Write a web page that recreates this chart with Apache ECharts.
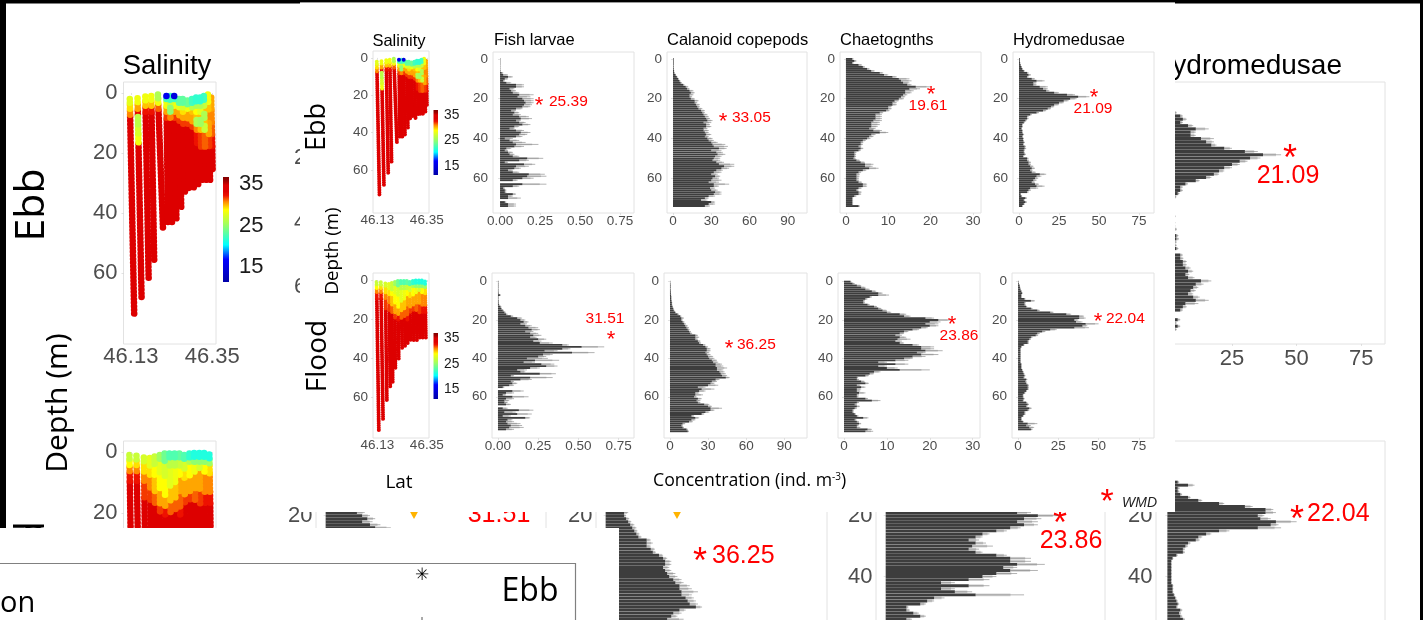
<!DOCTYPE html>
<html><head><meta charset="utf-8">
<style>html,body{margin:0;padding:0;background:#fff}#c{width:1423px;height:620px}</style>
<script src="https://cdn.jsdelivr.net/npm/echarts@6/dist/echarts.min.js"></script>
</head><body><div id="c"></div>
<script>
// ---- Mean concentration by 1 m depth bin (index = depth in m) ----
const ebbFish = [.002,.002,.002,.002,.002,.002,.003,.01,.02,.05,.03,.02,.04,.1,.1,.06,.07,.08,.12,.11,.14,.15,.16,.15,.14,.1,.07,.09,.08,.12,.13,.1,.12,.14,.09,.06,.1,.13,.12,.1,.03,.06,.08,.1,.09,.04,.03,.05,.06,.08,.17,.12,.03,.15,.1,.09,.05,.08,.18,.17,.14,.08,0,.14,.08,.02,.03,.03,.08,.05,.05,0,.03,.05,.05];
const ebbFishErr = [0,0,0,0,0,0,0,.01,.03,.03,.02,.01,.03,.05,.05,.03,.03,.04,.09,.08,.07,.06,.05,.05,.05,.04,.03,.03,.05,.06,.07,.03,.04,.05,.03,.03,.05,.06,.05,.04,.05,.06,.08,.14,.06,.03,.02,.03,.03,.04,.1,.06,.02,.07,.08,.04,.03,.04,.1,.12,.07,.03,0,.15,.04,.01,.01,.01,.02,.03,.08,0,.01,.05,.05];
const ebbCal = [.5,.5,.5,.5,.5,.6,.8,1,2,3,4,5,6,8,10,11,13,14,13,13,14,17,17,18,19,20,22,23,24,25,26,27,24,26,26,24,24,25,26,25,27,28,30,31,32,36,30,34,35,33,32,31,34,36,40,38,34,32,30,33,31,30,28,32,32,29,30,33,32,28,25,22,30,28,25];
const ebbCalErr = [.1,.1,.1,.1,.1,.1,.2,.3,.4,.5,.6,.8,1,1,2,2,3,3,3,2,3,3,2,3,2,3,3,2,3,3,3,4,6,3,4,3,4,3,4,3,4,4,5,10,11,6,8,5,6,5,5,6,6,12,8,6,5,6,5,4,5,8,8,12,4,4,5,5,6,5,3,5,3,5,4];
const ebbChaet = [1.5,2,1.5,3,4,5,6,8,9,11,12.5,13,13.5,14.5,16.5,15,14,14,13.5,13,12.5,11.5,11,11,10,10,9.5,8,7,7,7,6.5,6,6,6,5.5,6.5,8,6,5.5,5,4,3.5,3.5,3,3.5,3,2,2,2,1.8,2.5,3.5,4.5,4.5,5.5,4,3,2.5,2.5,2.5,2.5,3,4,4,3,2.5,3,3,2,1.5,1.5,1.5,1.5,3];
const ebbChaetErr = [.3,.5,.3,.8,.5,.6,.8,.8,1,1,2.5,2.5,1.5,1,3.5,2.5,2,1.5,1,1,1.2,1,1,1,.8,.8,.8,.8,1.5,1.5,1.5,2,2,2,1.5,1.5,2,2,1,1,.8,.7,.6,.5,.6,.6,.5,.5,.4,.4,.5,.8,1,2,1.8,2.2,.8,.6,.8,.7,.6,.6,.8,1,1,.7,.5,.7,.6,.5,.2,.2,.2,.2,.3];
const ebbHydro = [.5,.5,.7,1,1.5,2,3,5,6,5,8,11,9,9,13,15,17,22,30,37,32,28,25,22,20,18,15,11,7,5,5,4,3,2,2,1.5,2,2,2.5,2,2.5,2.5,3,2.5,3.5,3.5,3,3,3.5,2.5,5,5,6,6,7,8,7,8,13,11,10,9,8,10,11,7,6,5,1,1.5,4,3,4,3,2];
const ebbHydroErr = [0,.1,.1,.2,.3,.4,.6,1,1.5,1,2,5,2,2,5,3,2,3,5,7,4,3,3,3,2,2,2,1.5,1,1,1,.7,.5,.3,.4,.3,.4,.4,.7,.4,.6,.6,.7,.5,.8,1,.6,.6,.8,.5,1,1.2,1.5,1.5,2,2,1.5,2.5,4,3,2,2,2,2.5,5,5,1.5,1,.3,.5,1,.6,1,.6,.4];
const floodFish = [.003,.003,.003,.003,.003,.003,.004,.012,.003,.003,.004,.004,.006,.015,.02,.03,.04,.05,.08,.12,.14,.16,.14,.17,.19,.21,.17,.2,.22,.2,.25,.22,.26,.4,.52,.4,.29,.46,.28,.25,.18,.23,.16,.27,.3,.2,.12,.14,.26,.08,.2,.14,.08,.09,.07,.03,0,.09,.05,.03,.09,.05,.04,.04,.05,0,.03,.13,.04,.12,.03,.17,.06,.05,.06,.08,.07,.05];
const floodFishErr = [0,0,0,0,0,0,0,.006,0,0,.001,.001,.003,.006,.005,.006,.008,.01,.015,.03,.03,.03,.04,.04,.06,.05,.05,.05,.05,.04,.05,.05,.08,.04,.14,.05,.08,.14,.06,.05,.13,.15,.07,.08,.07,.06,.06,.03,.1,.02,.14,.07,.02,.03,.03,.01,0,.07,.05,.02,.1,.05,.03,.02,.03,0,.03,.09,.07,.09,.05,.03,.03,.05,.08,.07,.09,.05];
const floodCal = [.3,.4,.5,.5,.5,.6,.7,.8,1,1,1.2,1.5,1.5,2,2.5,3,4,6,8,9,9,10,11,12,13,14,15,16,20,20,20,22,23,26,28,29,29,28,29,30,31,33,34,36,36,37,37,39,40,41,44,36,33,32,30,22,25,23,20,20,19,22,21,22,27,30,32,32,28,25,17,20,17,15,10,9,10,13,14];
const floodCalErr = [0,0,.1,.1,.1,.1,.1,.2,.2,.2,.3,.3,.3,.3,.4,.5,.8,1,1,2,1,1.5,1.5,2,2,1.5,1.5,1.5,2,3,2,2,1.5,2,2,3,3,3,3,4,4,4,4,5,6,8,5,4,4,4,3,3,4,3,8,6,10,5,3,6,2,3,3,2,4,3,9,3,3,2,2,3,3,3,2,1,1,1,1];
const floodChaet = [1.5,2,3,4,5,6.5,8,8,6,5,4.5,4.5,5.5,7,8,9,10,13,14,19,22,20,19,20,18,16,14,13,12,13,12.5,12,13,16,18,18,19,17,18,16,14,12,8,12,8,10,13,7,6,5,3,3,4,5,3,4,3,3,3.5,3,3,5,6.5,3,2.5,3,2.5,2,2,2.5,3,4.5,2.5,3,3.5,3,3,5.5,5];
const floodChaetErr = [.2,.5,1,1,1,1,1,2.5,.5,.5,.4,.4,.5,.7,.7,1,1,1.5,1.5,2,3,2.5,3,2,1.5,1.5,1,1,1.5,1.5,3,1.5,1,1.5,3,3,4,2,4,3,2,3,2,3,2,2.5,7,1.5,1,.8,.3,.5,.8,.8,.8,1,1,.8,1.5,.5,.4,.6,2,.5,.5,.7,.5,.3,.3,.3,.4,1.2,.4,.5,.5,.4,.8,1,1.8];
const floodHydro = [.3,.5,1,1.2,1.5,2,2.5,2,2,4,8,4,4,5,8,12,20,30,38,38,35,36,42,40,35,20,15,12,11,8,7,6,6,3.5,2,1.5,1.5,1.5,1.5,1.5,1.5,1.5,1.5,2,2,2,2.5,3,3.5,4,3.5,5,4.5,5,6,6,6,5,4,3,3,3.5,3,5,6,5,7,6,4,4,3,2,2,3,6,5,7,8];
const floodHydroErr = [0,.1,.1,.2,.2,.3,.3,.3,.3,.6,2.5,.8,.7,.7,1,1.5,2,3,3,4,2.5,4,8,3,9,4,2,1.5,1.5,1,1,.8,.8,.5,.3,.2,.2,.2,.2,.2,.2,.2,.2,.3,.3,.3,.4,.5,.5,.6,.5,.8,.8,.8,.8,.8,.7,.6,.6,.5,.5,.6,.5,.8,.8,.8,1.5,1,.7,.7,.6,.4,.4,.5,6,3,3,1];

// ---- Salinity casts: [lat at top, lat at bottom, top depth, bottom depth, [[layer end depth, salinity], ...]] ----
const ebbCasts = [
 [46.127,46.139,2,74,[[4,28],[6,29.5],[8,31],[74,33.5]]],
 [46.148,46.159,1.8,69,[[4,28.5],[6,30.5],[8,33],[11,26.5],[14,27.5],[17,28.5],[69,33.5]]],
 [46.169,46.178,1.2,62,[[3,28.5],[5,30],[7,32.5],[62,33.5]]],
 [46.185,46.193,1,56,[[3,28.5],[5,30],[7,32.5],[56,33.5]]],
 [46.203,46.217,.5,46,[[2,26],[4,28.5],[6,31.5],[46,33.5]]],
 [46.226,46.23,1,43,[[2,16],[3,22.5],[5,28.5],[7,30.5],[9,32],[43,33.5]]],
 [46.236,46.241,1,43,[[2.5,22.5],[5,27],[7,25],[9,31],[43,33.5]]],
 [46.247,46.253,1,42,[[2,15],[3,22.5],[5,28.5],[7,30.5],[9,32],[42,33.5]]],
 [46.26,46.266,2,38,[[3.5,23.5],[5,28],[8,30.5],[10,32],[38,33.5]]],
 [46.27,46.276,2,33,[[3.5,23.5],[5,27.5],[7,29.5],[9,30.5],[11,32],[33,33.5]]],
 [46.283,46.287,2.5,32,[[4,24],[6,28.5],[9,30.5],[11,32],[32,33.5]]],
 [46.295,46.3,2,32.5,[[3.5,22.5],[5,26.5],[7,30],[10,30.5],[12,32],[32.5,33.5]]],
 [46.306,46.312,1.5,31,[[3,22],[5,26],[7,29],[9,30],[11,26],[13,31],[17,32.5],[31,33.5]]],
 [46.317,46.322,1.5,30,[[3,22],[5,26],[7,28],[9,30],[11,25.5],[13,30],[18,32],[30,33.5]]],
 [46.327,46.333,1,30,[[3,22.5],[5,27],[7,30],[9,26],[11,30],[13,27],[18,31.5],[30,33.5]]],
 [46.338,46.344,.5,29,[[3,28.5],[6,30],[10,31],[14,30.5],[18,32],[29,33.5]]],
 [46.347,46.351,1.5,26,[[6,30.5],[10,31],[14,31.5],[18,32.5],[26,33.5]]]
];
const floodCasts = [
 [46.126,46.136,1,77,[[3,27],[5,29],[7,31],[10,32.5],[77,33.5]]],
 [46.145,46.155,1.2,71.5,[[3,27],[5,29.5],[7,31],[10,32.5],[71.5,33.5]]],
 [46.165,46.172,1.8,62,[[4,27.5],[7,29.5],[10,31],[15,32],[62,33.5]]],
 [46.181,46.187,2,55.5,[[5,28],[8,29.5],[12,31],[16,32],[55.5,33.5]]],
 [46.194,46.198,1.5,53,[[5,27],[8,29],[13,30],[17,31.5],[53,33.5]]],
 [46.208,46.21,1,46,[[3,25.5],[7,28],[12,29],[17,30.5],[20,32],[46,33.5]]],
 [46.221,46.225,.5,41,[[3,24],[8,27.5],[14,29],[18,30.5],[21,32.5],[41,33.5]]],
 [46.234,46.24,.5,35,[[2,23],[5,26.5],[11,28],[16,30],[20,31.5],[35,33.5]]],
 [46.248,46.253,.5,34,[[2,23],[5,26.5],[10,28.5],[15,30],[19,31.5],[34,33.5]]],
 [46.261,46.265,.5,33,[[2,23.5],[5,27],[8,29],[13,30.5],[18,31.5],[21,32.5],[33,33.5]]],
 [46.274,46.278,1,31.5,[[3,23],[6,27.5],[9,29.5],[14,30.5],[17,32],[31.5,33.5]]],
 [46.288,46.292,.5,31.5,[[2,22],[4,26],[8,29],[13,30.5],[16,32],[31.5,33.5]]],
 [46.301,46.306,.3,31,[[2,21.5],[4,25],[7,28.5],[12,30.5],[16,31.5],[31,33.5]]],
 [46.315,46.319,.3,30.5,[[2,21.5],[4,25],[6,27.5],[12,30.5],[17,32],[30.5,33.5]]],
 [46.328,46.332,.3,30,[[2,21.5],[4,25],[7,29],[13,31],[17,32.5],[30,33.5]]],
 [46.342,46.346,.8,30,[[2.5,21.5],[4.5,25.5],[7,29.5],[13,31],[17,32.5],[30,33.5]]]
];

// ---- Tick labels, titles and WMD annotations ----
const latTicks = [46.13, 46.35];
const depthTicks = [0, 20, 40, 60];
const fishTicks = [0, .25, .5, .75];
const calTicks = [0, 30, 60, 90];
const chaetTicks = [0, 10, 20, 30];
const hydroTicks = [0, 25, 50, 75];
const salTicks = [35, 25, 15];
const titles = ["Salinity", "Fish larvae", "Calanoid copepods", "Chaetognths", "Hydromedusae"];
const salStops = [[11.5,'#0000a8'],[17,'#0000ff'],[20.5,'#00ffff'],[25.5,'#a0ff60'],[29,'#ffff00'],[31,'#ff8800'],[32.5,'#ee1100'],[33.5,'#dd0000'],[35,'#dd0000'],[36,'#a00000'],[37,'#800000']];

function hex(c){return [1,3,5].map(i=>parseInt(c.substr(i,2),16));}
function salColor(s){
  for(let i=1;i<salStops.length;i++){
    if(s<=salStops[i][0]){
      const a=salStops[i-1],b=salStops[i],t=Math.max(0,(s-a[0])/(b[0]-a[0]));
      const A=hex(a[1]),B=hex(b[1]);
      return 'rgb('+A.map((v,k)=>Math.round(v+(B[k]-v)*t)).join(',')+')';
    }
  }
  return salStops[salStops.length-1][1];
}
const SANS='"Liberation Sans",Arial,sans-serif', OPEN='"Open Sans",sans-serif', GREY='#4d4d4d', BOX='#e2e2e2';
const grid=[],xAxis=[],yAxis=[],series=[],graphic=[];

function baseAxisStyle(fs,z,margin){
  return {z,axisLine:{show:false},splitLine:{show:false},
    axisLabel:{fontFamily:SANS,fontSize:fs,color:GREY,margin,hideOverlap:false},
    axisTick:{show:true,length:2,lineStyle:{color:'#cfcfcf',width:.6}}};
}
function addGrid(box,z){
  grid.push({left:box[0],top:box[1],width:box[2]-box[0],height:box[3]-box[1],show:true,borderColor:BOX,borderWidth:1,backgroundColor:'transparent',z,containLabel:false,outerBoundsMode:'none'});
  return grid.length-1;
}
function barPanel(box,range,ticks,dp,depthMin,depthMax,vals,errs,fs,z){
  const g=addGrid(box,z);
  const cats=[];for(let d=depthMin;d<=depthMax;d++)cats.push(String(d));
  const b=baseAxisStyle(fs,z,fs>15?4:1);
  const show=(i,v)=>depthTicks.indexOf(+v)>=0;
  xAxis.push({...b,type:'value',gridIndex:g,min:range[0],max:range[1],
    axisLabel:{...b.axisLabel,customValues:ticks,formatter:v=>v.toFixed(dp)},
    axisTick:{...b.axisTick,customValues:ticks}});
  yAxis.push({...b,type:'category',gridIndex:g,data:cats,inverse:true,
    axisLabel:{...b.axisLabel,interval:show,margin:fs>15?3.5:5},
    axisTick:{...b.axisTick,interval:show,alignWithLabel:true}});
  const off=-depthMin;
  series.push({type:'custom',xAxisIndex:g,yAxisIndex:g,z,silent:true,clip:true,
    data:vals.map((v,i)=>[v,i+off,errs[i]]),encode:{x:0,y:1},
    renderItem(p,api){
      const m=api.value(0),y=api.value(1),e=api.value(2);
      const A=api.coord([m,y]),B=api.coord([m+e*.72,y]),C=api.coord([m+e,y]);
      const h=api.size([0,1])[1]*.9;
      return {type:'group',children:[
        {type:'rect',shape:{x:A[0],y:A[1]-h/2,width:B[0]-A[0],height:h},style:{fill:'#d4d4d4'}},
        {type:'line',shape:{x1:A[0],y1:A[1],x2:C[0],y2:C[1]},style:{stroke:'#666',lineWidth:.5}}]};
    }});
  series.push({type:'bar',xAxisIndex:g,yAxisIndex:g,z:z+.1,silent:true,barWidth:'96%',
    itemStyle:{color:'#3d3d3d'},data:vals.map((v,i)=>[v,i+off]),encode:{x:0,y:1}});
}
function salPanel(box,depthRange,casts,fs,z,w){
  const g=addGrid(box,z);
  const b=baseAxisStyle(fs,z,fs>15?2:0);
  xAxis.push({...b,type:'value',gridIndex:g,min:46.11,max:46.36,
    axisLabel:{...b.axisLabel,customValues:latTicks,formatter:v=>v.toFixed(2)},
    axisTick:{...b.axisTick,customValues:latTicks}});
  yAxis.push({...b,type:'value',gridIndex:g,inverse:true,min:depthRange[0],max:depthRange[1],
    axisLabel:{...b.axisLabel,customValues:depthTicks,margin:fs>15?6:5},
    axisTick:{...b.axisTick,customValues:depthTicks}});
  const segs=[];
  casts.forEach(c=>{let d0=c[2];const latAt=d=>c[0]+(c[1]-c[0])*(d-c[2])/(c[3]-c[2]);
    c[4].forEach(l=>{segs.push([latAt(d0),d0,latAt(l[0]),l[0],l[1]]);d0=l[0];});});
  segs.sort((a,b)=>(b[4]-a[4]));
  series.push({type:'custom',xAxisIndex:g,yAxisIndex:g,z,silent:true,clip:true,data:segs,encode:{x:[0,2],y:[1,3]},
    renderItem(p,api){
      const A=api.coord([api.value(0),api.value(1)]),B=api.coord([api.value(2),api.value(3)]);
      return {type:'line',shape:{x1:A[0],y1:A[1],x2:B[0],y2:B[1]},
        style:{stroke:salColor(api.value(4)),lineWidth:w,lineCap:'round',lineDash:[.01,w*.55]}};
    }});
}
function T(x,y,text,size,fill,o){
  o=o||{};
  graphic.push({type:'text',z:o.z||8,x,y,rotation:o.rot||0,silent:true,style:{text,fill,
    font:(o.style||'')+' '+size+'px '+(o.fam||SANS),align:o.align||'center',verticalAlign:'middle',rich:o.rich}});
}
function star(x,y,size,z){T(x,y+size*.2,'*',size,'#ff0000',{z});}
function R(x,y,w,h,fill,z){graphic.push({type:'rect',z,silent:true,shape:{x,y,width:w,height:h},style:{fill}});}
function colorbar(x,y,w,h,labelX,labelYs,fs,z){
  const colorStops=salStops.map(s=>({offset:(37-s[0])/(37-11.5),color:s[1]})).reverse();
  graphic.push({type:'rect',z,silent:true,shape:{x,y,width:w,height:h},style:{fill:{type:'linear',x:0,y:0,x2:0,y2:1,colorStops}}});
  salTicks.forEach((s,i)=>T(labelX,labelYs[i],String(s),fs,'#1a1a1a',{z,align:'left'}));
}

// ===== Back layer (larger copy of the figure) =====
const B=1;
salPanel([123.5,82,216,344],[-3.67,83.67],ebbCasts,22,B,6.6);
salPanel([123.5,441,216,703],[-3.6,82],floodCasts,22,B,6.6);
barPanel([322,82,546,344],[-.04,.84],fishTicks,2,-3,77,ebbFish,ebbFishErr,22,B);
barPanel([1156,82,1385,344],[-4.4,84.2],hydroTicks,0,-3,77,ebbHydro,ebbHydroErr,22,B);
barPanel([316,441,546,703],[-.037,.845],fishTicks,2,-4,81,floodFish,floodFishErr,22,B);
barPanel([596,441,827,703],[-4.7,107.9],calTicks,0,-4,81,floodCal,floodCalErr,22,B);
barPanel([876,441,1105,703],[-1.4,31.7],chaetTicks,0,-4,81,floodChaet,floodChaetErr,22,B);
barPanel([1156,441,1385,703],[-4.4,84.2],hydroTicks,0,-4,81,floodHydro,floodHydroErr,22,B);
T(167,66,titles[0],27.5,'#000',{z:B});
T(1342,66,titles[4],28,'#000',{z:B,align:'right'});
colorbar(223,177,6,105,239,[184,226,267],22,B);
T(32,205,'Ebb',41,'#000',{z:B,fam:OPEN,rot:Math.PI/2});
T(32,574,'Flood',41,'#000',{z:B,fam:OPEN,rot:Math.PI/2});
T(58,403,'Depth (m)',30,'#000',{z:B,fam:OPEN,rot:Math.PI/2});
star(1290,153,36,B);T(1288,176,'21.09',25,'#ff0000',{z:B});
T(499,515,'31.51',25,'#ff0000',{z:B});
star(700,556,36,B);T(712,556,'36.25',25,'#ff0000',{z:B,align:'left'});
star(1060,518,36,B);T(1071,541,'23.86',25,'#ff0000',{z:B});
star(1297,514,36,B);T(1307,514,'22.04',25,'#ff0000',{z:B,align:'left'});
[414,677].forEach(x=>graphic.push({type:'polygon',z:B,silent:true,shape:{points:[[x-5,510],[x+5,510],[x,519]]},style:{fill:'#ffb300'}}));

// ===== Covers: the smaller copy sits on white, the lower-left on another white patch =====
R(300,2,875,510,'#fff',5);
R(0,528,619,92,'#fff',5);

// ===== Front layer =====
const F=6;
salPanel([373,51,429,213],[-3.7,83],ebbCasts,13.5,F,4);
salPanel([373,273,429,438],[-3.6,81],floodCasts,13.5,F,4);
barPanel([493,52,634,213],[-.044,.8375],fishTicks,2,-3,77,ebbFish,ebbFishErr,13.5,F);
barPanel([667,52,807,213],[-4.7,105],calTicks,0,-3,77,ebbCal,ebbCalErr,13.5,F);
barPanel([840,52,981,213],[-1.4,31.9],chaetTicks,0,-3,77,ebbChaet,ebbChaetErr,13.5,F);
barPanel([1013,52,1154,213],[-3.75,84.4],hydroTicks,0,-3,77,ebbHydro,ebbHydroErr,13.5,F);
barPanel([492,273,634,438],[-.037,.845],fishTicks,2,-4,81,floodFish,floodFishErr,13.5,F);
barPanel([664,273,807,438],[-4.7,107.9],calTicks,0,-4,81,floodCal,floodCalErr,13.5,F);
barPanel([838,273,980,438],[-1.4,31.7],chaetTicks,0,-4,81,floodChaet,floodChaetErr,13.5,F);
barPanel([1012,273,1154,438],[-3.75,84.4],hydroTicks,0,-4,81,floodHydro,floodHydroErr,13.5,F);
T(399,41,titles[0],16.5,'#000');
T(494,40,titles[1],16.5,'#000',{align:'left'});
T(667,40,titles[2],16.5,'#000',{align:'left'});
T(840,40,titles[3],16.5,'#000',{align:'left'});
T(1013,40,titles[4],16.5,'#000',{align:'left'});
colorbar(433.5,110,4.5,65,444,[115,140,166],13.8,8);
colorbar(433.5,333,4.5,66,444,[338,364,389],13.8,8);
T(317,127,'Ebb',27,'#000',{fam:OPEN,rot:Math.PI/2});
T(318,356,'Flood',28,'#000',{fam:OPEN,rot:Math.PI/2});
T(333,251,'Depth (m)',18.8,'#000',{fam:OPEN,rot:Math.PI/2});
T(399,483,'Lat',19,'#000',{fam:OPEN});
T(653,481,'Concentration (ind. m{s|-3})',17.7,'#000',{fam:OPEN,align:'left',rich:{s:{fontSize:10,fontFamily:'Open Sans',verticalAlign:'top',fill:'#000',lineHeight:18}}});
// WMD annotations, small copy
const A=15.5;
star(539,102,22);T(549,102,'25.39',A,'#ff0000',{align:'left'});
star(723,118,22);T(732,118,'33.05',A,'#ff0000',{align:'left'});
star(931,91,22);T(928,106,'19.61',A,'#ff0000');
star(1094,94,22);T(1093,109,'21.09',A,'#ff0000');
T(605,319,'31.51',A,'#ff0000');star(611,336,22);
star(729,345,22);T(737,345,'36.25',A,'#ff0000',{align:'left'});
star(952,321,22);T(959,336,'23.86',A,'#ff0000');
star(1098,318,22);T(1106,319,'22.04',A,'#ff0000',{align:'left'});
star(1107,496,34);T(1122,503,'WMD',14,'#222',{align:'left',style:'italic'});

// ===== Lower-left fragment and screenshot edges =====
graphic.push({type:'line',z:8,silent:true,shape:{x1:-2,y1:563.5,x2:575.5,y2:563.5},style:{stroke:'#808080',lineWidth:1.2}});
graphic.push({type:'line',z:8,silent:true,shape:{x1:575.5,y1:563,x2:575.5,y2:622},style:{stroke:'#808080',lineWidth:1.2}});
T(0,604,'on',29,'#000',{fam:OPEN,align:'left'});
T(530,592,'Ebb',32,'#000',{fam:OPEN});
T(422,576,'✳',17,'#000',{fam:'"DejaVu Sans"'});
graphic.push({type:'line',z:8,silent:true,shape:{x1:422,y1:617,x2:422,y2:620},style:{stroke:'#555',lineWidth:1}});
R(0,0,300,3.5,'#000',9);
R(300,0,875,2,'#000',9);R(300,2,875,1,'#9a9a9a',9);
R(1175,0,248,3.5,'#000',9);
R(0,0,6,528,'#000',9);
R(1420,0,3,620,'#000',9);

const chart=echarts.init(document.getElementById('c'),null,{renderer:'canvas'});
chart.setOption({animation:false,backgroundColor:'#fff',grid,xAxis,yAxis,series,graphic:{elements:graphic}});
</script></body></html>
